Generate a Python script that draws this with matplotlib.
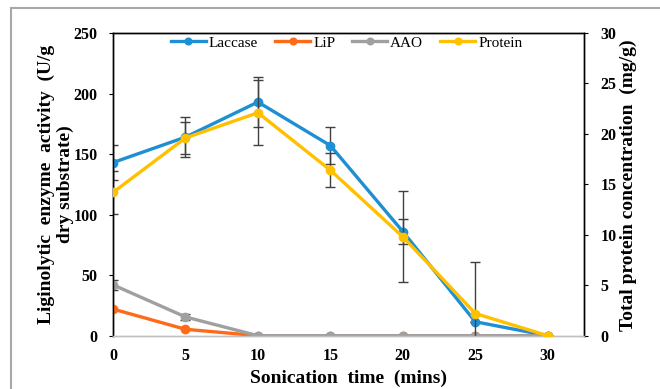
import matplotlib
matplotlib.use("Agg")
import matplotlib.pyplot as plt
from matplotlib.patches import Rectangle

# ---- data ----
time_min = [0, 5, 10, 15, 20, 25, 30]
laccase = [143, 164, 193, 157, 86, 11.5, 0]
laccase_err = [14.5, 16.5, 21, 15, 10, 0, 0]
lip = [22, 5.3, 0, 0, 0, 0, 0]
aao = [42, 15.5, 0, 0, 0, 0, 0]
aao_err = [4, 2.5, 0, 0, 0, 0, 0]
protein = [14.2, 19.6, 22.1, 16.4, 9.8, 2.2, 0]
protein_err = [2.1, 1.6, 3.2, 1.7, 4.5, 5.1, 0]

left_ticks = [0, 50, 100, 150, 200, 250]
right_ticks = [0, 5, 10, 15, 20, 25, 30]
x_ticks = [0, 5, 10, 15, 20, 25, 30]

c_lac = "#1F8FD3"
c_lip = "#FF6A18"
c_aao = "#A0A0A0"
c_pro = "#FFC000"
c_err = "#404040"

serif = ["Liberation Serif", "DejaVu Serif"]
plt.rcParams["font.family"] = serif

W, H = 660, 389
fig = plt.figure(figsize=(W / 100, H / 100), dpi=100)
fig.patches.append(Rectangle((11 / W, -0.1), 1.2, 1 - 8 / H + 0.1,
                             transform=fig.transFigure, fill=False,
                             edgecolor="#A8A8A8", linewidth=1.5))

x0, x1 = 113 / W, 584 / W
y0, y1 = 1 - 335.7 / H, 1 - 33 / H
ax = fig.add_axes([x0, y0, x1 - x0, y1 - y0])
ax2 = ax.twinx()

ax.set_xlim(0, 32.5)
ax.set_ylim(0, 250)
ax2.set_ylim(0, 30)

lw = 2.4
ms = 6
ax.errorbar(time_min, laccase, yerr=laccase_err, fmt="none", ecolor=c_err,
            elinewidth=1, capsize=3.5, capthick=1, zorder=1)
ax.errorbar(time_min, aao, yerr=aao_err, fmt="none", ecolor=c_err,
            elinewidth=1, capsize=3.5, capthick=1, zorder=1)
ax2.errorbar(time_min, protein, yerr=protein_err, fmt="none", ecolor=c_err,
             elinewidth=1, capsize=3.5, capthick=1, zorder=1)

h1, = ax.plot(time_min, laccase, "-o", color=c_lac, lw=lw, ms=ms, label="Laccase", zorder=3)
h2, = ax.plot(time_min, lip, "-o", color=c_lip, lw=lw, ms=ms, label="LiP", zorder=3)
h3, = ax.plot(time_min, aao, "-o", color=c_aao, lw=lw, ms=ms, label="AAO", zorder=3)
h4, = ax2.plot(time_min, protein, "-o", color=c_pro, lw=lw, ms=ms, label="Protein", zorder=3)

for a in (ax, ax2):
    for s in a.spines.values():
        s.set_color("black")
        s.set_linewidth(1.0)
    a.spines["bottom"].set_color("#BFBFBF")

ax.set_xticks(x_ticks)
ax.set_yticks(left_ticks)
ax2.set_yticks(right_ticks)
tick_font = dict(fontsize=11.5, fontweight="bold")
ax.set_xticklabels([str(v) for v in x_ticks], **tick_font)
ax.set_yticklabels([str(v) for v in left_ticks], **tick_font)
ax2.set_yticklabels([str(v) for v in right_ticks], **tick_font)
ax.tick_params(axis="x", length=0, pad=9)
ax.tick_params(axis="y", length=3, direction="out", pad=8)
ax2.tick_params(axis="y", length=3, direction="out", pad=9)

fig.text(348.5 / W, 1 - 378 / H, "Sonication  time  (mins)", ha="center", va="center",
         fontsize=14, fontweight="bold")
fig.text(56 / W, 1 - 184 / H, "Liginolytic  enzyme  activity  (U/g\ndry substrate)",
         ha="center", va="center", rotation=90, fontsize=14, fontweight="bold",
         multialignment="center", linespacing=1.15)
fig.text(628 / W, 1 - 185 / H, "Total protein concentration  (mg/g)",
         ha="center", va="center", rotation=90, fontsize=14, fontweight="bold")

leg = ax2.legend(handles=[h1, h2, h3, h4], loc="center", bbox_to_anchor=(0.496, 0.967),
                 ncol=4, frameon=False, fontsize=11, handlelength=2.3,
                 handletextpad=0.2, columnspacing=1.1, borderaxespad=0, markerscale=0.8)

fig.savefig("out.png", dpi=100)
